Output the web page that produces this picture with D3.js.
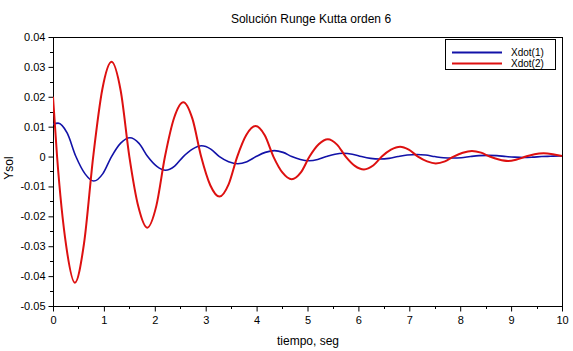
<!DOCTYPE html>
<html>
<head>
<meta charset="utf-8">
<script src="https://cdn.jsdelivr.net/npm/d3@7"></script>
<style>
  body { margin: 0; background: #fff; }
  text { font-family: "Liberation Sans", Arial, sans-serif; fill: #000; }
</style>
</head>
<body>
<div id="chart"></div>
<script>
// tiempo (s) de los puntos leidos
var tRed = [0.00, 0.08, 0.26, 0.43, 0.61, 0.79, 0.97, 1.15, 1.33, 1.50, 1.68, 1.85, 2.03, 2.20, 2.38, 2.56, 2.74, 2.91,
  3.09, 3.27, 3.45, 3.62, 3.80, 3.98, 4.16, 4.33, 4.51, 4.69, 4.87, 5.04, 5.22, 5.40, 5.58, 5.75, 5.93, 6.11, 6.29, 6.46,
  6.64, 6.82, 6.99, 7.17, 7.35, 7.52, 7.70, 7.87, 8.05, 8.23, 8.41, 8.58, 8.76, 8.94, 9.11, 9.29, 9.46, 9.64, 9.82, 10.00];
// Xdot(2)
var xdot2 = [0.0200, 0.0000, -0.0300, -0.0422, -0.0290, 0.0000, 0.0226, 0.0317, 0.0220, 0.0000, -0.0170, -0.0238, -0.0165, 0.0000,
  0.0130, 0.0182, 0.0126, 0.0000, -0.0096, -0.0134, -0.0093, 0.0000, 0.0073, 0.0102, 0.0071, 0.0000, -0.0054, -0.0076, -0.0053,
  0.0000, 0.0041, 0.0058, 0.0040, 0.0000, -0.0031, -0.0043, -0.0030, 0.0000, 0.0023, 0.0033, 0.0023, 0.0000, -0.0016, -0.0023,
  -0.0016, 0.0000, 0.0013, 0.0019, 0.0013, 0.0000, -0.0010, -0.0015, -0.0010, 0.0000, 0.0008, 0.0011, 0.0008, 0.0002];

var tBlue = [0.00, 0.10, 0.28, 0.45, 0.63, 0.80, 0.98, 1.15, 1.33, 1.51, 1.69, 1.86, 2.04, 2.21, 2.39, 2.56, 2.74, 2.92, 3.10,
  3.27, 3.45, 3.63, 3.81, 3.99, 4.17, 4.35, 4.52, 4.69, 4.86, 5.03, 5.20, 5.37, 5.54, 5.70, 5.88, 6.06, 6.24, 6.42, 6.60, 6.78,
  6.96, 7.15, 7.32, 7.50, 7.67, 7.85, 8.02, 8.20, 8.37, 8.55, 8.72, 8.90, 9.07, 9.25, 9.42, 9.60, 9.77, 9.95, 10.00];
// Xdot(1)
var xdot1 = [0.0108, 0.0112, 0.0078, 0.0000, -0.0058, -0.0082, -0.0057, 0.0000, 0.0045, 0.0063, 0.0044, 0.0000, -0.0033, -0.0046,
  -0.0032, 0.0000, 0.0025, 0.0036, 0.0025, 0.0000, -0.0017, -0.0024, -0.0017, 0.0000, 0.0014, 0.0020, 0.0014, 0.0000, -0.0010,
  -0.0014, -0.0010, 0.0000, 0.0008, 0.0011, 0.0008, 0.0000, -0.0006, -0.0008, -0.0006, 0.0000, 0.0005, 0.0007, 0.0005, 0.0000,
  -0.0004, -0.0005, -0.0004, 0.0000, 0.0003, 0.0004, 0.0003, 0.0000, -0.0002, -0.0003, -0.0002, 0.0000, 0.0001, 0.0002, 0.0002];

var xTicks = [0, 1, 2, 3, 4, 5, 6, 7, 8, 9, 10];
var yTicks = [-0.05, -0.04, -0.03, -0.02, -0.01, 0, 0.01, 0.02, 0.03, 0.04];
var yTickLabels = ["-0.05", "-0.04", "-0.03", "-0.02", "-0.01", "0", "0.01", "0.02", "0.03", "0.04"];
var leyenda = ["Xdot(1)", "Xdot(2)"];
var colores = ["#1212a8", "#dd1010"];

var W = 573, H = 351;
var x = d3.scaleLinear().domain([0, 10]).range([53, 562]);
var y = d3.scaleLinear().domain([-0.05, 0.04]).range([306, 37]);

var svg = d3.select("#chart").append("svg").attr("width", W).attr("height", H);

// ticks menores
var xMinor = d3.range(0.5, 10, 1);
var yMinor = d3.range(-0.045, 0.04, 0.01);
svg.selectAll(".xminor").data(xMinor).enter().append("line")
  .attr("x1", function (d) { return Math.round(x(d)) + 0.5; }).attr("x2", function (d) { return Math.round(x(d)) + 0.5; })
  .attr("y1", 306).attr("y2", 309).attr("stroke", "#000");
svg.selectAll(".yminor").data(yMinor).enter().append("line")
  .attr("y1", function (d) { return Math.round(y(d)) + 0.5; }).attr("y2", function (d) { return Math.round(y(d)) + 0.5; })
  .attr("x1", 50).attr("x2", 53).attr("stroke", "#000");

// ejes
var xAxis = d3.axisBottom(x).tickValues(xTicks).tickSize(5).tickPadding(5).tickFormat(d3.format("d"));
var gx = svg.append("g").attr("transform", "translate(0,306.5)").call(xAxis);
var yAxis = d3.axisLeft(y).tickValues(yTicks).tickSize(5).tickPadding(3)
  .tickFormat(function (d, i) { return yTickLabels[i]; });
var gy = svg.append("g").attr("transform", "translate(53.5,0)").call(yAxis);
[gx, gy].forEach(function (g) {
  g.select(".domain").remove();
  g.selectAll("line").attr("stroke", "#000");
  g.selectAll("text").attr("font-size", 11).attr("font-family", "Liberation Sans, Arial, sans-serif");
});

// marco
svg.append("rect").attr("x", 53.5).attr("y", 37.5).attr("width", 509).attr("height", 269)
  .attr("fill", "none").attr("stroke", "#000");

var clip = svg.append("clipPath").attr("id", "clip").append("rect")
  .attr("x", 53).attr("y", 37).attr("width", 510).attr("height", 270);

var line = d3.line()
  .x(function (d) { return x(d[0]); })
  .y(function (d) { return y(d[1]); })
  .curve(d3.curveMonotoneX);

svg.append("path").datum(d3.zip(tBlue, xdot1)).attr("clip-path", "url(#clip)")
  .attr("d", line).attr("fill", "none").attr("stroke", colores[0]).attr("stroke-width", 1.6);
svg.append("path").datum(d3.zip(tRed, xdot2)).attr("clip-path", "url(#clip)")
  .attr("d", line).attr("fill", "none").attr("stroke", colores[1]).attr("stroke-width", 2);

// leyenda
svg.append("rect").attr("x", 445.5).attr("y", 39.5).attr("width", 110).attr("height", 30)
  .attr("fill", "#fff").attr("stroke", "#000");
leyenda.forEach(function (nombre, i) {
  var yy = 52.5 + i * 11;
  svg.append("line").attr("x1", 452).attr("x2", 502).attr("y1", yy).attr("y2", yy)
    .attr("stroke", colores[i]).attr("stroke-width", 2);
  svg.append("text").attr("x", 511).attr("y", yy + 3.5).attr("font-size", 10).text(nombre);
});

// textos
svg.append("text").attr("x", 311).attr("y", 23).attr("text-anchor", "middle").attr("font-size", 12)
  .text("Solución Runge Kutta orden 6");
svg.append("text").attr("x", 308).attr("y", 345).attr("text-anchor", "middle").attr("font-size", 12)
  .text("tiempo, seg");
svg.append("text").attr("transform", "translate(13,168) rotate(-90)").attr("text-anchor", "middle").attr("font-size", 12)
  .text("Ysol");
</script>
</body>
</html>
